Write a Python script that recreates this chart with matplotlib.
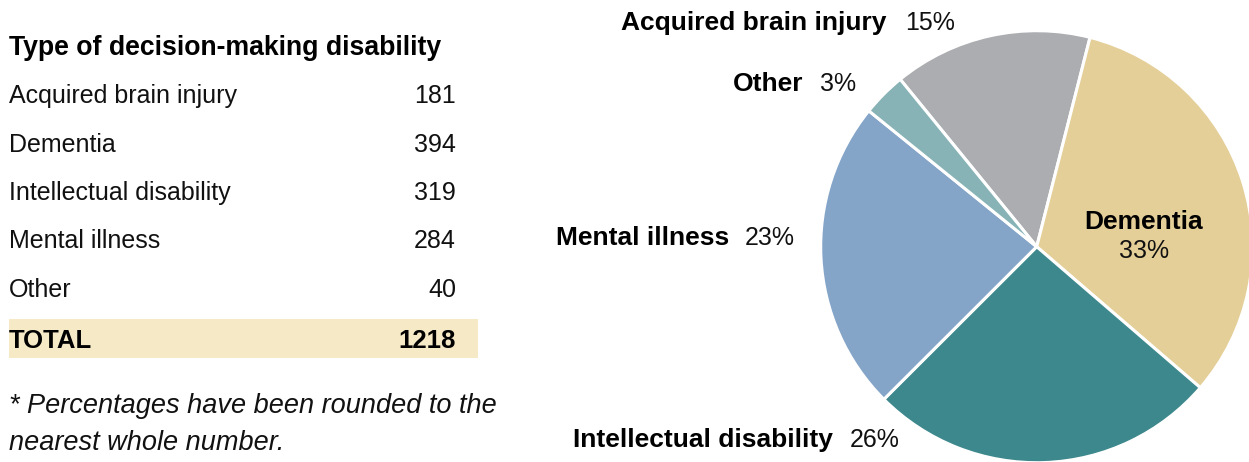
import matplotlib
matplotlib.use("Agg")
import matplotlib.pyplot as plt

# data
categories = ["Acquired brain injury", "Dementia", "Intellectual disability", "Mental illness", "Other"]
counts = [181, 394, 319, 284, 40]
total = 1218
pct_labels = ["15%", "33%", "26%", "23%", "3%"]
colors = ["#ACADB0", "#E5CF98", "#3D888C", "#84A4C8", "#87B3B6"]

plt.rcParams["font.family"] = ["Liberation Sans", "DejaVu Sans"]

W, H = 1249, 462
fig = plt.figure(figsize=(W / 100, H / 100), dpi=100)

# pie
cx, cy, r = 1036.7, 246.7, 216
pax = fig.add_axes([(cx - r) / W, (H - cy - r) / H, 2 * r / W, 2 * r / H])
start = 75.7 + counts[0] / total * 360
pax.pie(counts, colors=colors, startangle=start, counterclock=False, radius=1,
        wedgeprops=dict(edgecolor="white", linewidth=2.2))
pax.set_xlim(-1, 1)
pax.set_ylim(-1, 1)
pax.set_aspect("auto")
pax.axis("off")

# overlay axes in pixel coordinates for the table and labels
bg = fig.add_axes([0, 0, 1, 1], zorder=5)
bg.set_xlim(0, W)
bg.set_ylim(H, 0)
bg.axis("off")

fs = 18
txt = "#111111"

# table
bg.text(9, 55, "Type of decision-making disability", fontsize=19.2, fontweight="bold",
        color="black", va="baseline", ha="left")
row_y = [103.3, 151.7, 200, 248.3, 296.7]
for name, n, y in zip(categories, counts, row_y):
    bg.text(9, y, name, fontsize=fs, color=txt, va="baseline", ha="left")
    bg.text(456, y, str(n), fontsize=fs, color=txt, va="baseline", ha="right")

bg.axhspan(319, 358.3, xmin=9 / W, xmax=477.7 / W, color="#F6E9C6", zorder=0, lw=0)
bg.text(9, 348.3, "TOTAL", fontsize=18.5, fontweight="bold", color="black", va="baseline", ha="left")
bg.text(456, 348.3, str(total), fontsize=18.5, fontweight="bold", color="black", va="baseline", ha="right")

bg.text(9, 413, "* Percentages have been rounded to the", fontsize=19.5, style="italic",
        color=txt, va="baseline", ha="left")
bg.text(9, 450, "nearest whole number.", fontsize=19.5, style="italic",
        color=txt, va="baseline", ha="left")

# outside labels: (bold end x, pct start x, baseline y)
label_pos = {
    "Acquired brain injury": (886, 905, 30),
    "Other": (803, 820, 90.7),
    "Mental illness": (729, 745, 245),
    "Intellectual disability": (833, 850, 447.3),
}
fb = 19
for name, pct in zip(categories, pct_labels):
    if name in label_pos:
        xe, xp, y = label_pos[name]
        bg.text(xe, y, name, fontsize=fb, fontweight="bold", color="black", va="baseline", ha="right")
        bg.text(xp, y, pct, fontsize=fs, color=txt, va="baseline", ha="left")
    else:
        bg.text(1144, 229, name, fontsize=fb, fontweight="bold", color="black", va="baseline", ha="center")
        bg.text(1144, 258, pct, fontsize=fs, color=txt, va="baseline", ha="center")

fig.savefig("out.png", dpi=100)
